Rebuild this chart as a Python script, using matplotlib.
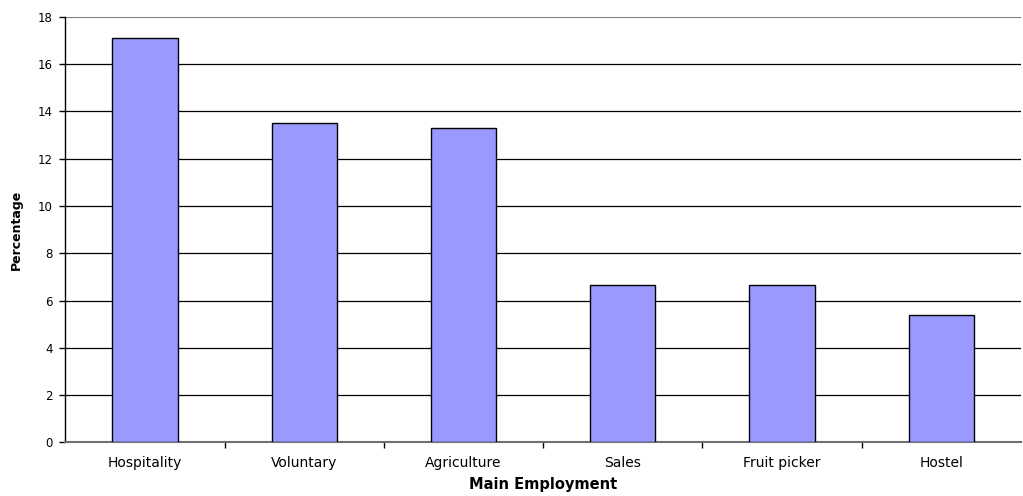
import matplotlib
matplotlib.use("Agg")
import matplotlib.pyplot as plt

categories = ["Hospitality", "Voluntary", "Agriculture", "Sales", "Fruit picker", "Hostel"]
percentages = [17.1, 13.5, 13.3, 6.67, 6.67, 5.4]
y_ticks = [0, 2, 4, 6, 8, 10, 12, 14, 16, 18]

plt.rcParams["font.family"] = ["DejaVu Sans"]

fig = plt.figure(figsize=(10.23, 4.96), dpi=100)
ax = fig.add_axes([0.0640, 0.108, 0.934, 0.858])

x = list(range(len(categories)))
ax.bar(x, percentages, width=0.41, color="#9999FF", edgecolor="black",
       linewidth=1.0, zorder=3)

ax.set_xlim(-0.5, len(categories) - 0.5)
ax.set_ylim(0, 18)
ax.set_yticks(y_ticks)
ax.set_yticklabels([str(v) for v in y_ticks], fontsize=8.5)

# Category labels centred under each bar, ticks on the category boundaries
ax.set_xticks(x)
ax.set_xticklabels(categories, fontsize=10)
ax.tick_params(axis="x", which="major", length=0, pad=9.5)
ax.set_xticks([i + 0.5 for i in x[:-1]], minor=True)
ax.tick_params(axis="x", which="minor", length=4, width=1, color="black",
               direction="out")
ax.tick_params(axis="y", length=4, width=1, pad=5, color="black")

# Horizontal gridlines
for v in y_ticks[1:-1]:
    ax.axhline(v, color="black", linewidth=0.9, zorder=1)
ax.axhline(18, color="#808080", linewidth=1.5, zorder=1)

ax.spines["right"].set_visible(False)
ax.spines["top"].set_visible(False)
ax.spines["left"].set_color("black")
ax.spines["left"].set_linewidth(1.0)
ax.spines["bottom"].set_color("#707070")
ax.spines["bottom"].set_linewidth(1.5)

ax.set_xlabel("Main Employment", fontsize=10.5, fontweight="bold", labelpad=5)
ax.set_ylabel("Percentage", fontsize=9, fontweight="bold", labelpad=11)

fig.savefig("out.png", dpi=100, facecolor="white")
